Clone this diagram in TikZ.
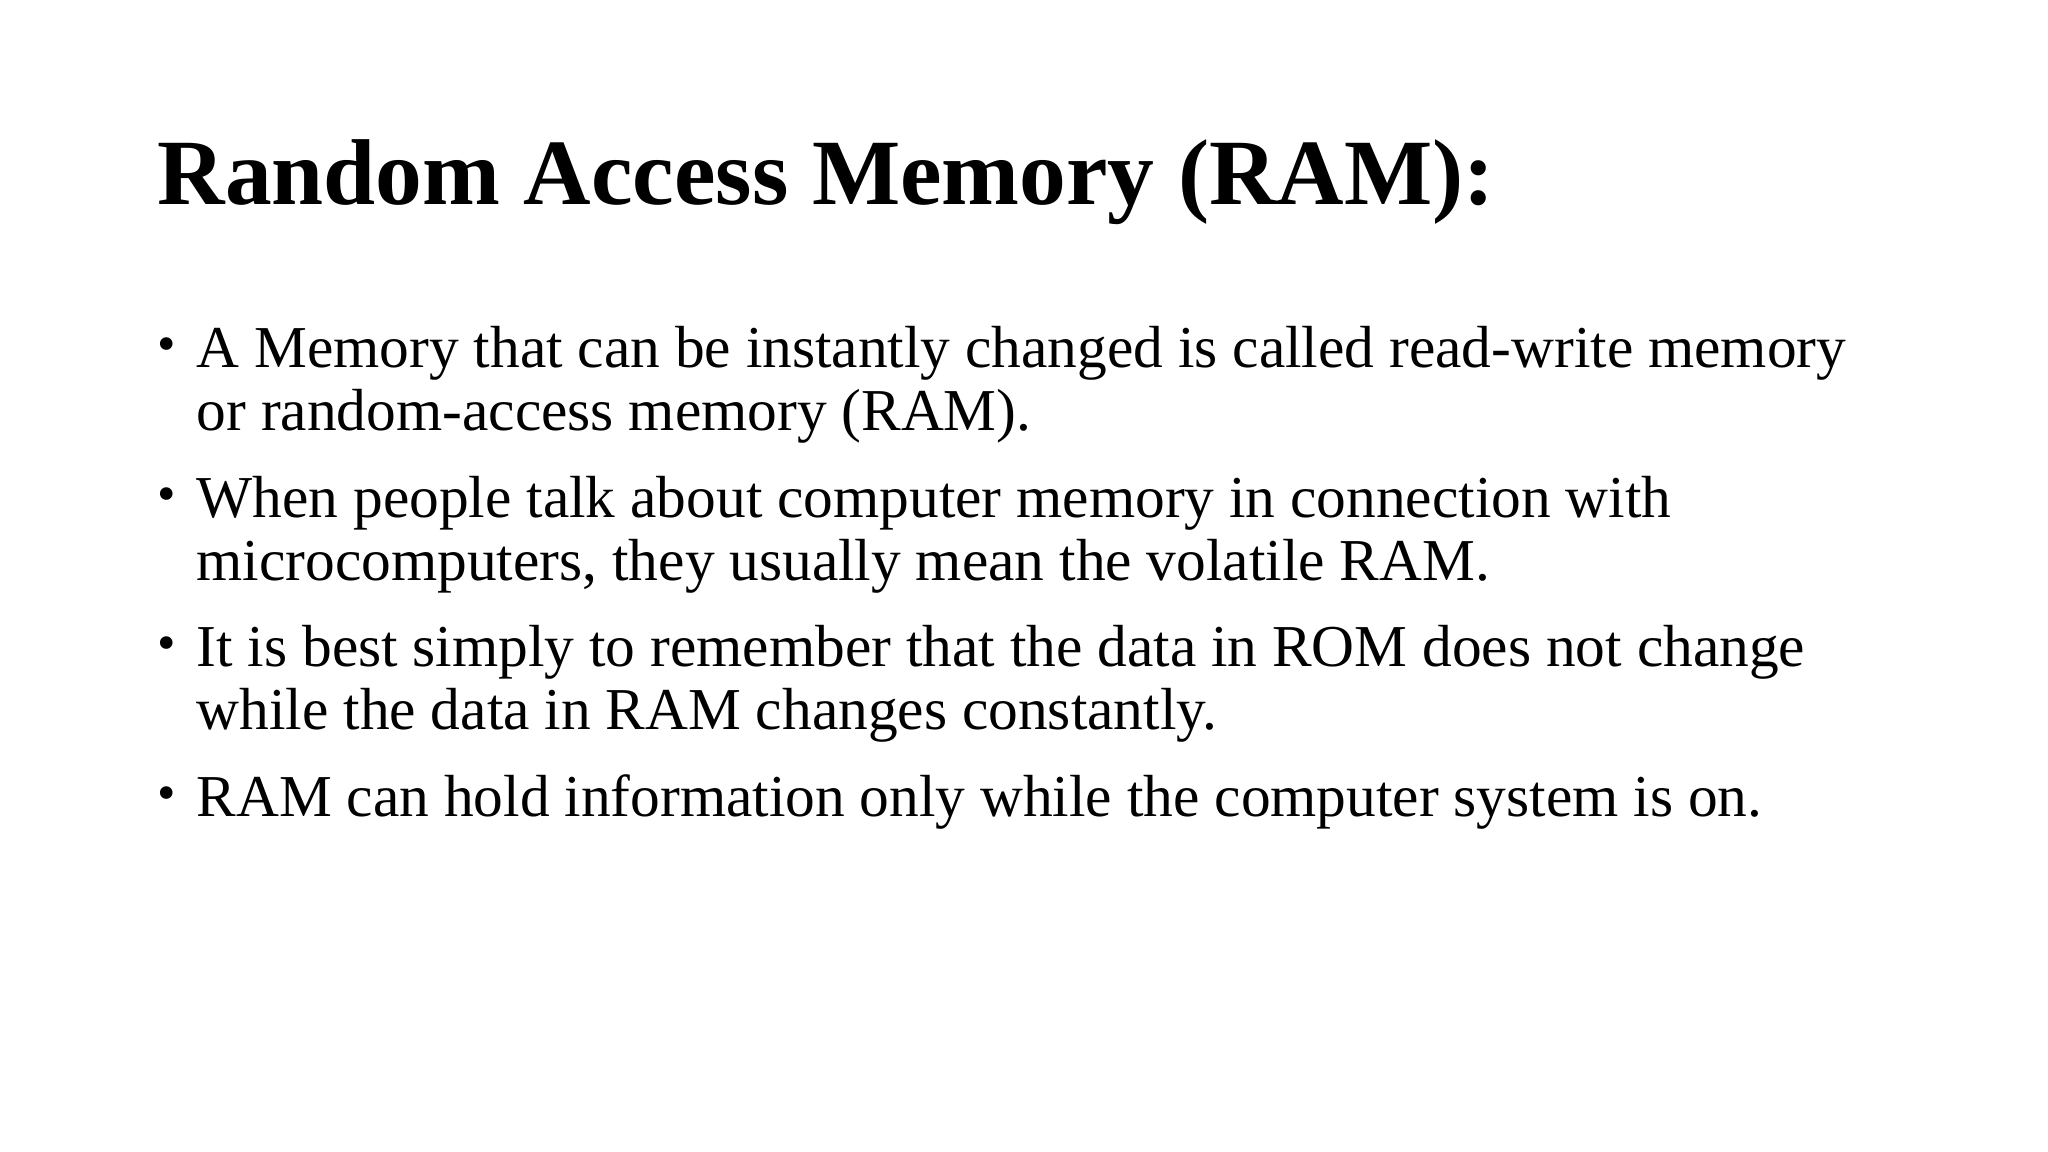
\documentclass[tikz,border=0pt]{standalone}
\usepackage{fontspec}
\setmainfont{Liberation Serif}
\begin{document}
\begin{tikzpicture}[x=1cm,y=1cm,
  ln/.style={anchor=base west,inner sep=0pt,font=\fontsize{16.9pt}{18pt}\selectfont},
  bul/.style={anchor=base west,inner sep=0pt,font=\fontsize{15pt}{18pt}\selectfont}]
\useasboundingbox[fill=white] (0,0) rectangle (20.48,11.52);
\node[anchor=base west,inner sep=0pt,font=\fontsize{26.6pt}{30pt}\selectfont\bfseries] (title) at (1.57,9.47) {Random Access Memory (RAM):};
\node[bul] (b1) at (1.57,7.9) {•};
\node[ln] (l1a) at (1.96,7.84) {A Memory that can be instantly changed is called read-write memory};
\node[ln] (l1b) at (1.96,7.21) {or random-access memory (RAM).};
\node[bul] (b2) at (1.57,6.4) {•};
\node[ln] (l2a) at (1.96,6.34) {When people talk about computer memory in connection with};
\node[ln] (l2b) at (1.96,5.71) {microcomputers, they usually mean the volatile RAM.};
\node[bul] (b3) at (1.57,4.91) {•};
\node[ln] (l3a) at (1.96,4.85) {It is best simply to remember that the data in ROM does not change};
\node[ln] (l3b) at (1.96,4.22) {while the data in RAM changes constantly.};
\node[bul] (b4) at (1.57,3.41) {•};
\node[ln] (l4a) at (1.96,3.35) {RAM can hold information only while the computer system is on.};
\end{tikzpicture}
\end{document}
